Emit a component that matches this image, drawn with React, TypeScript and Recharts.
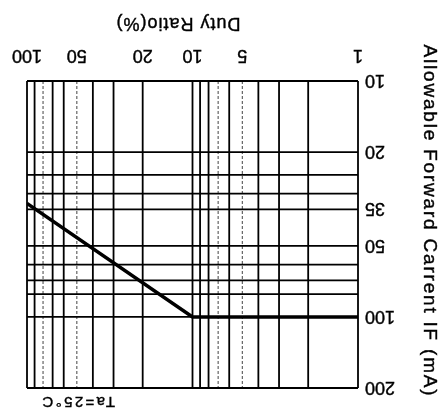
import React from 'react';
import { LineChart, Line, XAxis, YAxis, ReferenceLine } from 'recharts';

// Source figure is a scanned datasheet printed upside down; we draw it upright
// and rotate the whole thing by 180deg so it matches.
const DUTY = [1, 10, 100];
const CURRENT = [100, 100, 33];

const X_TICKS = [1, 5, 10, 20, 50, 100];
const Y_TICKS = [10, 20, 35, 50, 100, 200];

const X_GRID = [1, 2, 3, 4, 5, 6, 7, 8, 9, 10, 20, 30, 40, 50, 60, 70, 80, 90, 100];
const X_GRID_DOTTED = [5, 7, 50, 80];
const Y_GRID = [10, 20, 25, 30, 35, 50, 60, 70, 80, 100, 200];

const FONT = '"Liberation Sans", Arial, sans-serif';
// scanned print is a bit heavier than a regular weight
const INK = { fill: '#000', stroke: '#000', strokeWidth: 0.4 };

const data = DUTY.map((d, i) => ({ duty: d, current: CURRENT[i] }));

function XTitle() {
  return (
    <text x={263} y={393} textAnchor="middle" fontSize={18} letterSpacing={1} fontFamily={FONT} {...INK}>
      Duty Ratio(%)
    </text>
  );
}

function YTitle() {
  return (
    <text
      x={17}
      y={190}
      transform="rotate(-90 17 190)"
      textAnchor="middle"
      fontSize={19}
      letterSpacing={1.8}
      fontFamily={FONT}
      {...INK}
    >
      Allowable Forward Carrent IF (mA)
    </text>
  );
}

function TaNote() {
  return (
    <text x={326} y={14} textAnchor="start" fontSize={15} letterSpacing={2.4} fontFamily={FONT} {...INK}>
      Ta=25°C
    </text>
  );
}

export default function App() {
  return (
    <div
      style={{
        position: 'fixed',
        left: 0,
        top: 0,
        width: 441,
        height: 411,
        background: '#fff',
        transform: 'rotate(180deg)',
      }}
    >
      <LineChart width={441} height={411} data={data} margin={{ top: 23, right: 27, bottom: 31, left: 23 }}>
        <XAxis
          dataKey="duty"
          type="number"
          scale="log"
          domain={[1, 100]}
          allowDataOverflow
          ticks={X_TICKS}
          interval={0}
          height={50}
          axisLine={false}
          tickLine={false}
          tickSize={6}
          tickMargin={12}
          tick={{ fontSize: 18, fontFamily: FONT, ...INK }}
          label={<XTitle />}
        />
        <YAxis
          dataKey="current"
          type="number"
          scale="log"
          domain={[10, 200]}
          allowDataOverflow
          ticks={Y_TICKS}
          interval={0}
          width={60}
          axisLine={false}
          tickLine={false}
          tickSize={5}
          tickMargin={2}
          tick={{ fontSize: 18, fontFamily: FONT, ...INK }}
          label={<YTitle />}
        />
        {X_GRID.map((v) => {
          const dotted = X_GRID_DOTTED.includes(v);
          return (
            <ReferenceLine
              key={'x' + v}
              x={v}
              stroke={dotted ? '#555' : '#000'}
              strokeWidth={dotted ? 1.1 : 1.8}
              strokeDasharray={dotted ? '3 2' : undefined}
            />
          );
        })}
        {Y_GRID.map((v) => (
          <ReferenceLine
            key={'y' + v}
            y={v}
            stroke="#000"
            strokeWidth={1.8}
            label={v === 200 ? <TaNote /> : undefined}
          />
        ))}
        <Line
          type="linear"
          dataKey="current"
          stroke="#000"
          strokeWidth={3.5}
          dot={false}
          isAnimationActive={false}
        />
      </LineChart>
    </div>
  );
}
